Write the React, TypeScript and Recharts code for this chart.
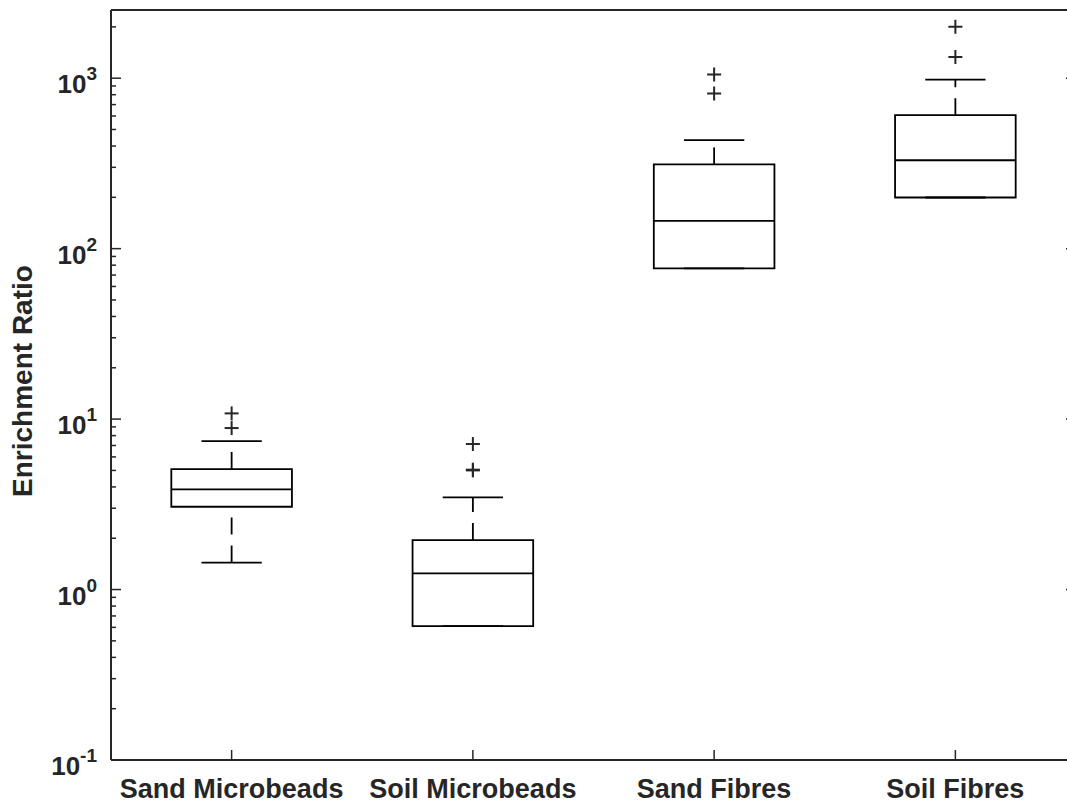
import { ComposedChart, XAxis, YAxis, Scatter, ReferenceLine, ReferenceArea, Label } from "recharts";

// box statistics (log scale)
const CATEGORIES = ["Sand Microbeads", "Soil Microbeads", "Sand Fibres", "Soil Fibres"];
const WHISKER_LOW = [1.44, 0.61, 76.5, 199.6];
const Q1 = [3.06, 0.61, 76.5, 199.6];
const MEDIAN = [3.87, 1.245, 145.6, 330];
const Q3 = [5.09, 1.95, 312, 607];
const WHISKER_HIGH = [7.43, 3.47, 433, 982];
const OUTLIERS = [
  [8.86, 10.8],
  [5.0, 5.05, 7.14],
  [813, 1051],
  [1333, 2000],
];

const MAJOR_TICKS = [0.1, 1, 10, 100, 1000];
const MAJOR_EXPONENTS = ["-1", "0", "1", "2", "3"];
const Y_MAX = 2512;
const MINOR_TICKS = MAJOR_TICKS.flatMap((m) => [2, 3, 4, 5, 6, 7, 8, 9].map((k) => m * k)).filter((v) => v < Y_MAX);
const Y_TICKS = [...MAJOR_TICKS, ...MINOR_TICKS];
const X_TICKS = [1, 2, 3, 4];

const INK = "#262626";
const FONT = '"Liberation Sans", Arial, Helvetica, sans-serif';
const BOX_HALF = 0.25;
const CAP_HALF = 0.125;

const outlierPoints = OUTLIERS.flatMap((vals, i) => vals.map((v) => ({ x: i + 1, y: v })));

const majorIndex = (v: number) => MAJOR_TICKS.findIndex((m) => Math.abs(m - v) / m < 1e-6);

const LeftTick = (props: any) => {
  const { x, y, payload } = props;
  const idx = majorIndex(payload.value);
  const major = idx >= 0;
  return (
    <g>
      <line x1={x} x2={x + (major ? 10 : 5)} y1={y} y2={y} stroke={INK} strokeWidth={1.5} />
      {major && (
        <text x={x - 14} y={y + 15} textAnchor="end" fill={INK} fontFamily={FONT} fontWeight="bold" fontSize={26}>
          <tspan>10</tspan>
          <tspan dy={-13} fontSize={19}>{MAJOR_EXPONENTS[idx]}</tspan>
        </text>
      )}
    </g>
  );
};

const RightTick = (props: any) => {
  const { x, y, payload } = props;
  const major = majorIndex(payload.value) >= 0;
  return <line x1={x - (major ? 10 : 5)} x2={x} y1={y} y2={y} stroke={INK} strokeWidth={1.5} />;
};

const BottomTick = (props: any) => {
  const { x, y, payload } = props;
  return (
    <g>
      <line x1={x} x2={x} y1={y} y2={y - 10} stroke={INK} strokeWidth={1.5} />
      <text x={x} y={y + 38} textAnchor="middle" fill={INK} fontFamily={FONT} fontWeight="bold" fontSize={27}>
        {CATEGORIES[payload.value - 1]}
      </text>
    </g>
  );
};

const TopTick = (props: any) => {
  const { x, y } = props;
  return <line x1={x} x2={x} y1={y} y2={y + 10} stroke={INK} strokeWidth={1.5} />;
};

const Plus = (props: any) => {
  const { cx, cy } = props;
  return (
    <g stroke={INK} strokeWidth={2}>
      <line x1={cx - 7} x2={cx + 7} y1={cy} y2={cy} />
      <line x1={cx} x2={cx} y1={cy - 7} y2={cy + 7} />
    </g>
  );
};

export default function App() {
  return (
    <div style={{ position: "fixed", left: 0, top: 0, width: 1067, height: 805, overflow: "hidden", background: "#fff" }}>
      <ComposedChart width={1090} height={805} margin={{ top: 0, right: 0, bottom: 0, left: 0 }}>
        <XAxis
          xAxisId={0}
          type="number"
          dataKey="x"
          domain={[0.5, 4.5]}
          ticks={X_TICKS}
          interval={0}
          height={45}
          tickSize={0}
          tickMargin={0}
          tick={<BottomTick />}
          axisLine={{ stroke: INK, strokeWidth: 2 }}
          tickLine={false}
        />
        <XAxis
          xAxisId="top"
          orientation="top"
          type="number"
          domain={[0.5, 4.5]}
          ticks={X_TICKS}
          interval={0}
          height={10}
          tickSize={0}
          tickMargin={0}
          tick={<TopTick />}
          axisLine={{ stroke: INK, strokeWidth: 2 }}
          tickLine={false}
        />
        <YAxis
          yAxisId={0}
          type="number"
          dataKey="y"
          scale="log"
          domain={[0.1, Y_MAX]}
          allowDataOverflow
          ticks={Y_TICKS}
          interval={0}
          width={111}
          tickSize={0}
          tickMargin={0}
          tick={<LeftTick />}
          axisLine={{ stroke: INK, strokeWidth: 2 }}
          tickLine={false}
        >
          <Label
            content={(p: any) => {
              const vb = p.viewBox || { y: 10, height: 750 };
              const cy = vb.y + vb.height / 2 - 4;
              return (
                <text
                  x={32}
                  y={cy}
                  transform={`rotate(-90 32 ${cy})`}
                  textAnchor="middle"
                  fill={INK}
                  fontFamily={FONT}
                  fontWeight="bold"
                  fontSize={28}
                >
                  Enrichment Ratio
                </text>
              );
            }}
          />
        </YAxis>
        <YAxis
          yAxisId="right"
          orientation="right"
          type="number"
          scale="log"
          domain={[0.1, Y_MAX]}
          allowDataOverflow
          ticks={Y_TICKS}
          interval={0}
          width={14}
          tickSize={0}
          tickMargin={0}
          tick={<RightTick />}
          axisLine={{ stroke: INK, strokeWidth: 2 }}
          tickLine={false}
        />

        {CATEGORIES.map((c, i) => (
          <ReferenceArea
            key={`box-${c}`}
            x1={i + 1 - BOX_HALF}
            x2={i + 1 + BOX_HALF}
            y1={Q1[i]}
            y2={Q3[i]}
            fill="#fff"
            fillOpacity={0}
            stroke="#000"
            strokeWidth={1.8}
            ifOverflow="visible"
          />
        ))}
        {CATEGORIES.map((c, i) => (
          <ReferenceLine
            key={`med-${c}`}
            segment={[{ x: i + 1 - BOX_HALF, y: MEDIAN[i] }, { x: i + 1 + BOX_HALF, y: MEDIAN[i] }]}
            stroke="#000"
            strokeWidth={1.8}
            ifOverflow="visible"
          />
        ))}
        {CATEGORIES.map((c, i) => (
          <ReferenceLine
            key={`wu-${c}`}
            segment={[{ x: i + 1, y: Q3[i] }, { x: i + 1, y: WHISKER_HIGH[i] }]}
            stroke="#000"
            strokeWidth={1.8}
            strokeDasharray="17 11"
            ifOverflow="visible"
          />
        ))}
        {CATEGORIES.map((c, i) => (
          <ReferenceLine
            key={`wl-${c}`}
            segment={[{ x: i + 1, y: WHISKER_LOW[i] }, { x: i + 1, y: Q1[i] }]}
            stroke="#000"
            strokeWidth={1.8}
            strokeDasharray="17 11"
            ifOverflow="visible"
          />
        ))}
        {CATEGORIES.map((c, i) => (
          <ReferenceLine
            key={`cu-${c}`}
            segment={[{ x: i + 1 - CAP_HALF, y: WHISKER_HIGH[i] }, { x: i + 1 + CAP_HALF, y: WHISKER_HIGH[i] }]}
            stroke="#000"
            strokeWidth={1.8}
            ifOverflow="visible"
          />
        ))}
        {CATEGORIES.map((c, i) => (
          <ReferenceLine
            key={`cl-${c}`}
            segment={[{ x: i + 1 - CAP_HALF, y: WHISKER_LOW[i] }, { x: i + 1 + CAP_HALF, y: WHISKER_LOW[i] }]}
            stroke="#000"
            strokeWidth={1.8}
            ifOverflow="visible"
          />
        ))}
        <Scatter data={outlierPoints} dataKey="y" shape={<Plus />} isAnimationActive={false} />
      </ComposedChart>
    </div>
  );
}
